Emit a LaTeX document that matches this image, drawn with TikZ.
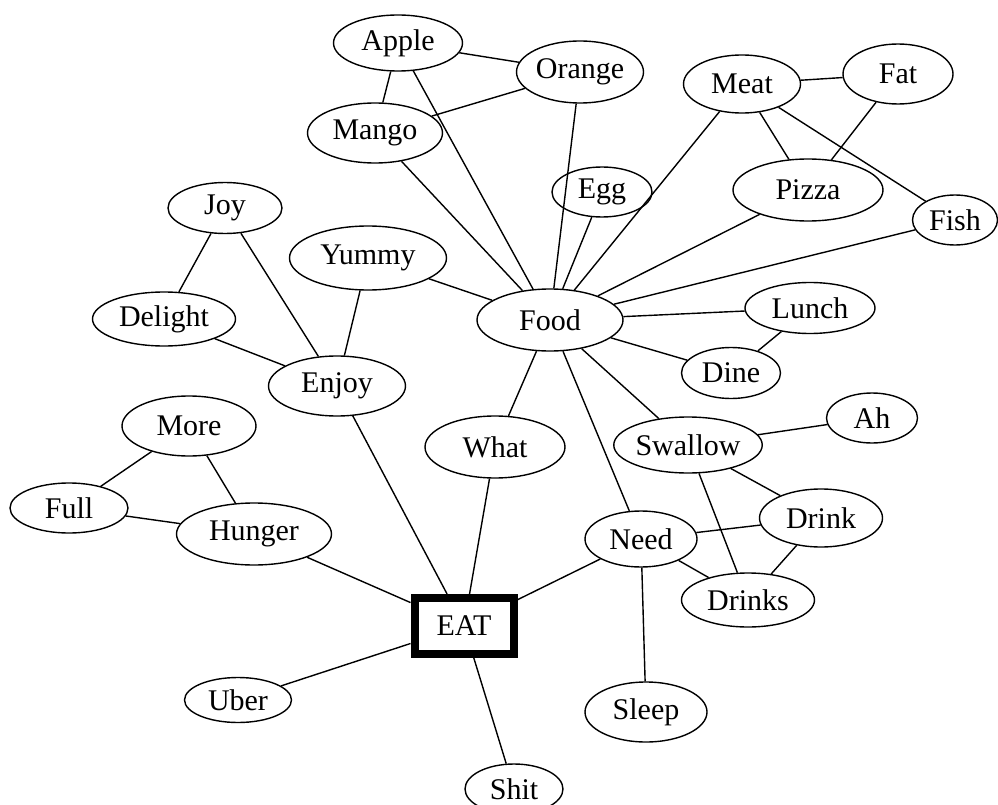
\documentclass[tikz,border=0pt]{standalone}
\usepackage{fontspec}
\setmainfont{Liberation Serif}
\usetikzlibrary{shapes.geometric}

\tikzset{
  bub/.style={ellipse, draw, line width=1.4pt, fill=white, inner sep=0pt,
              font=\fontsize{30}{32}\selectfont},
  hub/.style={rectangle, draw, line width=8pt, fill=white, inner sep=0pt,
              font=\fontsize{30}{32}\selectfont},
  sz/.style 2 args={minimum width=#1pt, minimum height=#2pt},
  link/.style={line width=1.4pt},
}

\begin{document}
\begin{tikzpicture}[x=1pt,y=-1pt]
\useasboundingbox (0,0) rectangle (998,805);
\clip (0,0) rectangle (998,805);
\fill[white] (0,0) rectangle (998,805);

% nodes
\node[bub, sz={129}{56}] (apple)   at (398,43)  {Apple};
\node[bub, sz={127}{62}] (orange)  at (580,72)  {Orange};
\node[bub, sz={135}{60}] (mango)   at (375,133) {Mango};
\node[bub, sz={117}{58}] (meat)    at (742,84)  {Meat};
\node[bub, sz={110}{60}] (fat)     at (898,74)  {Fat};
\node[bub, sz={100}{50}] (egg)     at (602,192) {Egg};
\node[bub, sz={150}{62}] (pizza)   at (808,190) {Pizza};
\node[bub, sz={85}{50}]  (fish)    at (955,220) {Fish};
\node[bub, sz={114}{51}] (joy)     at (225,208) {Joy};
\node[bub, sz={157}{64}] (yummy)   at (368,258) {Yummy};
\node[bub, sz={143}{54}] (delight) at (164,319) {Delight};
\node[bub, sz={146}{62}] (food)    at (550,320) {Food};
\node[bub, sz={130}{51}] (lunch)   at (810,308) {Lunch};
\node[bub, sz={99}{51}]  (dine)    at (731,373) {Dine};
\node[bub, sz={137}{60}] (enjoy)   at (337,386) {Enjoy};
\node[bub, sz={134}{60}] (more)    at (189,426) {More};
\node[bub, sz={91}{50}]  (ah)      at (872,418) {Ah};
\node[bub, sz={140}{62}] (what)    at (495,447) {What};
\node[bub, sz={142}{56}] (swallow) at (688,445) {Swallow};
\node[bub, sz={118}{50}] (full)    at (69,508)  {Full};
\node[bub, sz={155}{62}] (hunger)  at (254,534) {Hunger};
\node[bub, sz={123}{58}] (drink)   at (821,518) {Drink};
\node[bub, sz={112}{56}] (need)    at (641,539) {Need};
\node[hub, sz={99}{56}]  (eat)     at (464,626) {EAT};
\node[bub, sz={133}{54}] (drinks)  at (748,600) {Drinks};
\node[bub, sz={107}{45}] (uber)    at (238,700) {Uber};
\node[bub, sz={122}{60}] (sleep)   at (646,712) {Sleep};
\node[bub, sz={98}{50}]  (shit)    at (514,789) {Shit};

% connectors
\foreach \a/\b in {apple/orange, apple/mango, apple/food, orange/mango,
  orange/food, mango/food, meat/fat, meat/pizza, meat/fish, meat/food,
  fat/pizza, egg/food, pizza/food, fish/food, joy/delight, joy/enjoy,
  yummy/food, yummy/enjoy, delight/enjoy, food/lunch, food/dine,
  lunch/dine, food/swallow, food/what, food/need, enjoy/eat, what/eat,
  more/full, more/hunger, full/hunger, hunger/eat, swallow/ah,
  swallow/drink, swallow/drinks, drink/need, drink/drinks, need/drinks,
  need/eat, need/sleep, eat/uber, eat/shit}
  \draw[link] (\a) -- (\b);
\end{tikzpicture}
\end{document}
